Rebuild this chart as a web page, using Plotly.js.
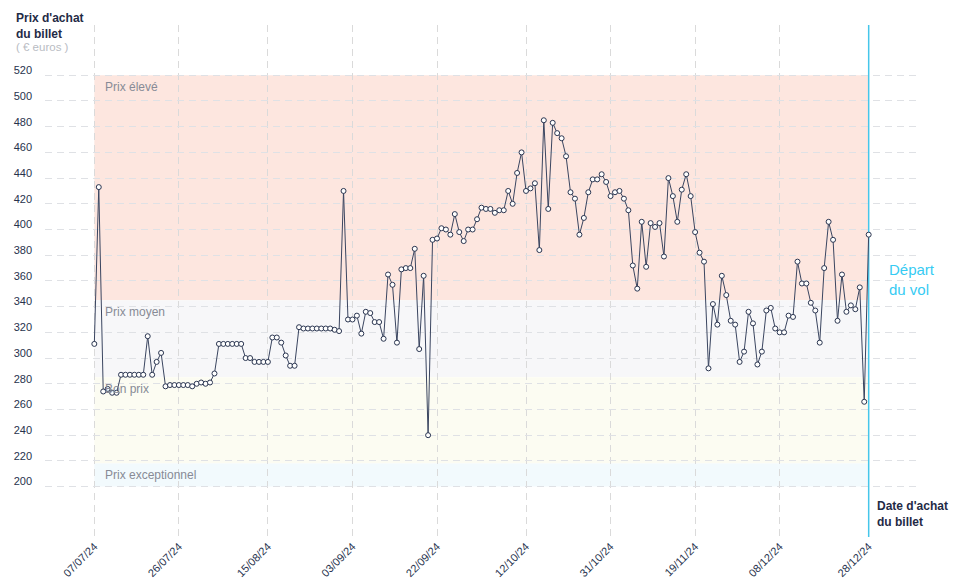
<!DOCTYPE html>
<html>
<head>
<meta charset="utf-8">
<script src="https://cdn.plot.ly/plotly-3.0.1.min.js"></script>
<style>html,body{margin:0;padding:0;background:#fff;}#chart{width:958px;height:585px;}</style>
</head>
<body>
<div id="chart"></div>
<script>
// ---- Data ----
var startDate = '2024-07-07';   // first purchase date (one price per day)
var departDate = '2024-12-28';  // flight departure
var prices = [
  311, 433, 274, 276, 273, 273, 287, 287, 287, 287,
  287, 287, 317, 287, 297, 304, 278, 279, 279, 279,
  279, 279, 278, 280, 281, 280, 281, 288, 311, 311,
  311, 311, 311, 311, 300, 300, 297, 297, 297, 297,
  316, 316, 312, 302, 294, 294, 324, 323, 323, 323,
  323, 323, 323, 323, 322, 321, 430, 330, 330, 333,
  319, 336, 335, 328, 328, 315, 365, 357, 312, 369,
  370, 370, 385, 307, 364, 240, 392, 393, 401, 400,
  396, 412, 398, 391, 400, 400, 408, 417, 416, 416,
  413, 415, 415, 430, 420, 444, 460, 430, 432, 436,
  384, 485, 416, 483, 475, 471, 457, 429, 424, 396,
  409, 429, 439, 439, 443, 437, 426, 429, 430, 424,
  415, 372, 354, 406, 371, 405, 402, 405, 379, 440,
  426, 406, 431, 443, 426, 398, 382, 375, 292, 342,
  326, 364, 349, 329, 326, 297, 305, 336, 327, 295,
  305, 337, 339, 323, 320, 320, 333, 332, 375, 358,
  358, 343, 337, 312, 370, 406, 392, 329, 365, 336,
  341, 338, 355, 266, 396
];
var xTickLabels = ['07/07/24','26/07/24','15/08/24','03/09/24','22/09/24','12/10/24','31/10/24','19/11/24','08/12/24','28/12/24'];
var yTickValues = [200,220,240,260,280,300,320,340,360,380,400,420,440,460,480,500,520];
var yRange = [160.8, 559.1];
var bandNames = ['Prix élevé','Prix moyen','Bon prix','Prix exceptionnel'];
var bandTops = [520, 345, 285, 218];
var bandBottoms = [345, 285, 218, 200];
var bandColors = ['#fde6df','#f7f7f9','#fcfcf2','#f2fafd'];

// ---- Helpers ----
function addDays(iso, n){
  var d = new Date(iso + 'T00:00:00Z');
  d.setUTCDate(d.getUTCDate() + n);
  return d.toISOString().slice(0,10);
}
function labelToIso(lbl){
  var p = lbl.split('/');
  return '20' + p[2] + '-' + p[1] + '-' + p[0];
}
var dates = prices.map(function(_, i){ return addDays(startDate, i); });
var tickVals = xTickLabels.map(labelToIso);

var navy = '#27324d';
var fontFam = '"Liberation Sans", Arial, sans-serif';

// departure marker line (drawn above grid, below the price line)
var departTrace = {
  x: [departDate, departDate], y: yRange, type: 'scatter', mode: 'lines',
  line: {color: '#45c6ea', width: 1.5}, hoverinfo: 'skip', showlegend: false, cliponaxis: false
};
var trace = {
  x: dates, y: prices, type: 'scatter', mode: 'lines+markers',
  line: {color: '#3a4560', width: 1},
  marker: {symbol: 'circle', size: 5, color: '#ffffff', line: {color: '#2a3550', width: 1}},
  hoverinfo: 'x+y', showlegend: false
};

var shapes = [];
var annotations = [];
for (var i = 0; i < bandNames.length; i++){
  shapes.push({type: 'rect', xref: 'x', yref: 'y', x0: startDate, x1: departDate,
    y0: bandBottoms[i], y1: bandTops[i], fillcolor: bandColors[i], line: {width: 0}, layer: 'below'});
  annotations.push({xref: 'x', yref: 'y', x: startDate, y: bandTops[i], xanchor: 'left', yanchor: 'top',
    xshift: 9, yshift: -3, showarrow: false, text: bandNames[i],
    font: {family: fontFam, size: 12, color: '#878b96'}});
}

annotations.push({xref: 'x', yref: 'paper', x: departDate, y: 0.502, xanchor: 'left', yanchor: 'middle',
  xshift: 18, showarrow: false, align: 'left', text: 'Départ<br>du vol',
  font: {family: fontFam, size: 15, color: '#36cbf3'}});
annotations.push({xref: 'paper', yref: 'paper', x: 0, y: 1, xanchor: 'left', yanchor: 'top',
  xshift: -31, yshift: 16, showarrow: false, align: 'left', text: "<b>Prix d'achat<br>du billet</b>",
  font: {family: fontFam, size: 12, color: '#1f2b46'}});
annotations.push({xref: 'paper', yref: 'paper', x: 0, y: 1, xanchor: 'left', yanchor: 'middle',
  xshift: -31, yshift: -22, showarrow: false, text: '( € euros )',
  font: {family: fontFam, size: 11.5, color: '#b9bcc3'}});
annotations.push({xref: 'x', yref: 'paper', x: departDate, y: 0, xanchor: 'left', yanchor: 'middle',
  xshift: 6, yshift: 23, showarrow: false, align: 'left', text: "<b>Date d'achat<br>du billet</b>",
  font: {family: fontFam, size: 12, color: '#1f2b46'}});

var layout = {
  width: 958, height: 585,
  margin: {l: 45, r: 40, t: 25, b: 48, pad: 0},
  paper_bgcolor: '#ffffff', plot_bgcolor: '#ffffff',
  font: {family: fontFam, color: navy},
  showlegend: false,
  xaxis: {
    type: 'date', range: ['2024-06-25 22:00', '2025-01-08 02:00'],
    tickmode: 'array', tickvals: tickVals, ticktext: xTickLabels, tickangle: -45,
    tickfont: {family: fontFam, size: 11, color: navy},
    showgrid: true, gridcolor: '#dadada', griddash: '7px,5px', gridwidth: 1,
    zeroline: false, showline: false, ticks: '', fixedrange: true
  },
  yaxis: {
    range: yRange,
    tickmode: 'array', tickvals: yTickValues,
    tickfont: {family: fontFam, size: 11, color: navy},
    showgrid: true, gridcolor: '#dfe1e5', griddash: '7px,5px', gridwidth: 1,
    zeroline: false, showline: false, ticks: '', ticklabelshift: -5, ticklabelstandoff: 12,
    fixedrange: true
  },
  shapes: shapes,
  annotations: annotations
};

Plotly.newPlot('chart', [departTrace, trace], layout, {displayModeBar: false, staticPlot: true});
</script>
</body>
</html>
